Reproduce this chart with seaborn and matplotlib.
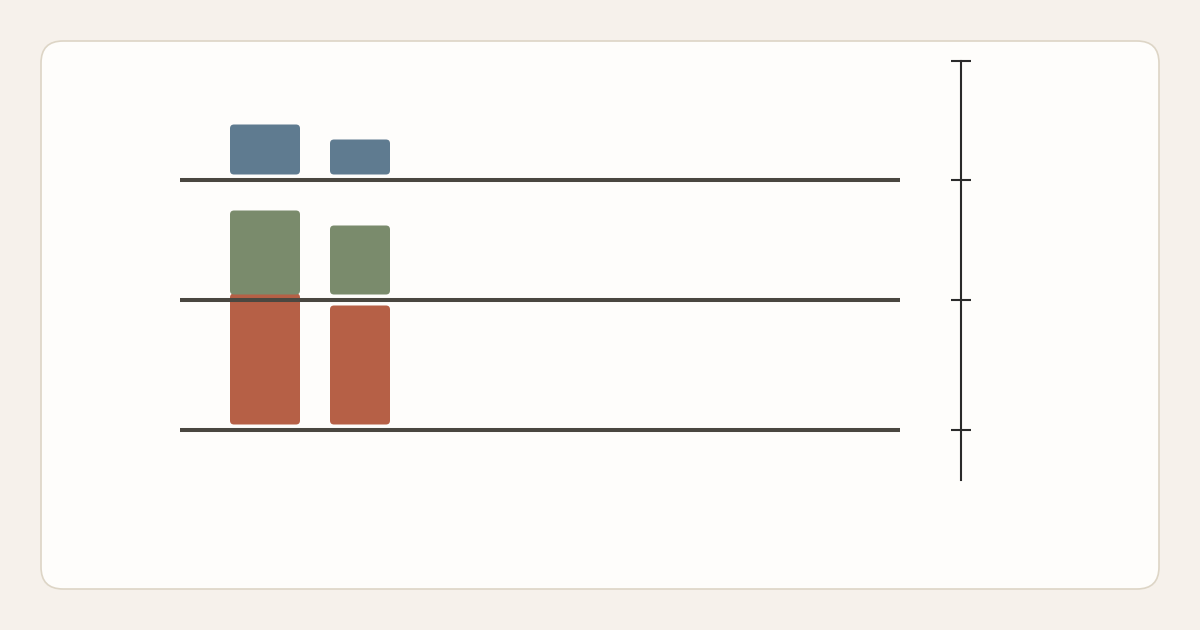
import matplotlib
matplotlib.use("Agg")
import matplotlib.pyplot as plt
import seaborn as sns
import pandas as pd
from matplotlib.patches import FancyBboxPatch, Rectangle

# ---- data (bar heights) ----
categories = ["A", "B"]
red_values = [131, 119]
green_values = [84, 69]
blue_values = [50, 35]

# ---- layout / style (pixels) ----
W, H = 1200, 630
AX_L, AX_R, AX_T, AX_B = 180, 961, 61, 480
LINE_END = 900
ROW_BASE_PX = {"red": 430, "green": 300, "blue": 180}
BAR_CENTERS_PX = [265, 360]
BAR_WIDTHS_PX = [70, 60]
PAD = 5.5
COLORS = {"red": "#b66046", "green": "#7a8b6c", "blue": "#5f7b90"}
LINE_COLOR = "#4a4740"
AXIS_COLOR = "#2a2a2a"
BG = "#f6f1eb"
CARD = "#fefdfb"
CARD_EDGE = "#ddd5c6"

sns.set_theme(style="white")

fig = plt.figure(figsize=(W / 100, H / 100), dpi=100)
fig.patch.set_facecolor(BG)

# background card
bg_ax = fig.add_axes([0, 0, 1, 1])
bg_ax.set_xlim(0, W)
bg_ax.set_ylim(H, 0)
bg_ax.axis("off")
bg_ax.add_patch(FancyBboxPatch((41, 41), 1118, 548,
                               boxstyle="round,pad=0,rounding_size=22",
                               facecolor=CARD, edgecolor=CARD_EDGE, linewidth=1.2))

ax = fig.add_axes([AX_L / W, (H - AX_B) / H, (AX_R - AX_L) / W, (AX_B - AX_T) / H])
ax.patch.set_alpha(0)


def to_y(px):
    return AX_B - px


def to_x(px):
    return px - AX_L


rows = [("red", red_values), ("green", green_values), ("blue", blue_values)]
x_centers = [to_x(c) for c in BAR_CENTERS_PX]

for name, vals in rows:
    df = pd.DataFrame({"x": x_centers, "value": vals, "cat": categories})
    n_before = len(ax.patches)
    sns.barplot(data=df, x="x", y="value", native_scale=True, errorbar=None,
                color=COLORS[name], saturation=1, ax=ax, width=0.7)
    new = [p for p in ax.patches[n_before:] if isinstance(p, Rectangle)]
    new.sort(key=lambda p: p.get_x())
    base = to_y(ROW_BASE_PX[name])
    for p, cx, w in zip(new, x_centers, BAR_WIDTHS_PX):
        h = p.get_height()
        p.remove()
        ax.add_patch(FancyBboxPatch((cx - w / 2, base + PAD), w, h,
                                    boxstyle="round,pad=0,rounding_size=4",
                                    facecolor=COLORS[name], edgecolor="none",
                                    zorder=2, clip_on=False))

# baselines
for name, _ in rows:
    ax.hlines(to_y(ROW_BASE_PX[name]), 0, to_x(LINE_END), color=LINE_COLOR,
              linewidth=2.9, zorder=3, clip_on=False)

ax.set_xlim(0, AX_R - AX_L)
ax.set_ylim(0, AX_B - AX_T)
ax.set_xlabel("")
ax.set_ylabel("")
for s in ["top", "left", "bottom"]:
    ax.spines[s].set_visible(False)
ax.spines["right"].set_visible(True)
ax.spines["right"].set_color(AXIS_COLOR)
ax.spines["right"].set_linewidth(1.5)
ax.set_xticks([])
ax.yaxis.tick_right()
ax.set_yticks([to_y(430), to_y(300), to_y(180), to_y(61)])
ax.set_yticklabels([])
ax.tick_params(axis="y", direction="inout", length=15, width=1.5,
               color=AXIS_COLOR, right=True, left=False)

fig.savefig("out.png", dpi=100, facecolor=BG)
